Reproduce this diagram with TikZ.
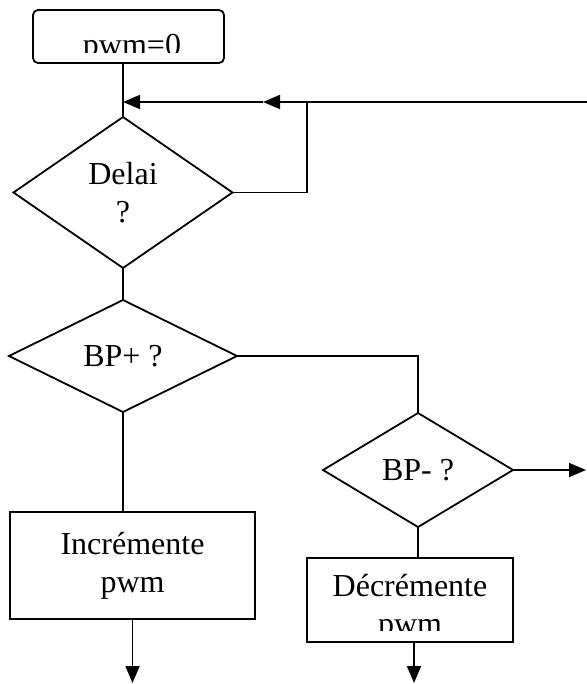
\documentclass[tikz,border=0pt]{standalone}
\usepackage{fontspec}
\setmainfont{Liberation Serif}
\usetikzlibrary{shapes.geometric,arrows.meta}
\tikzstyle{txt}=[font=\fontsize{16}{18.8}\selectfont, inner sep=0, outer sep=0]
\tikzstyle{procbox}=[txt, shape=rectangle, draw=black, align=center]
\tikzstyle{startbox}=[procbox, rounded corners=2.5pt]
\tikzstyle{decision}=[txt, shape=diamond, draw=black, align=center]
\tikzstyle{arr}=[-{Triangle[length=8.5pt,width=7pt]}]

\begin{document}
\begin{tikzpicture}[x=0.5pt,y=-0.5pt,line width=0.9pt]
\useasboundingbox (0,0) rectangle (587,684);
\node[startbox, minimum width=95.5pt, minimum height=26.5pt] (start) at (128.5,36.5) {};
\begin{scope}
\clip (33,10) rectangle (224,53);
\node[txt, anchor=base] (startlbl) at (132,56) {pwm=0};
\end{scope}
\node[decision, minimum width=109.5pt, minimum height=75.5pt] (delai) at (123,192.5) {Delai\\?};
\node[decision, minimum width=114pt, minimum height=56pt] (bpplus) at (123,356) {BP+ ?};
\node[decision, minimum width=95pt, minimum height=57pt] (bpminus) at (418,470) {BP- ?};
\node[procbox, minimum width=122.5pt, minimum height=53.5pt] (inc) at (132.5,565.5) {Incrémente\\pwm};
\node[procbox, minimum width=103pt, minimum height=42pt] (dec) at (410,600) {};
\begin{scope}
\clip (307,558) rectangle (513,630);
\node[txt, align=center] (declbl) at (410,608) {Décrémente\\pwm};
\end{scope}
\coordinate (loopin) at (587,102);
\coordinate (loopmid) at (263,102);
\coordinate (loopjoin) at (307,102);
\coordinate (outm) at (586,470);
\coordinate (incend) at (132.5,683);
\coordinate (decend) at (414,683);
\draw (start.south -| delai.north) -- (delai.north);
\draw[arr] (loopin) -- (loopmid);
\draw[arr] (loopmid) -- (delai.north |- loopin);
\draw (delai.east) -| (loopjoin);
\draw (delai.south) -- (bpplus.north);
\draw (bpplus.east) -| (bpminus.north);
\draw[arr] (bpminus.east) -- (outm);
\draw (bpplus.south) -- (bpplus.south |- inc.north);
\draw (bpminus.south) -- (bpminus.south |- dec.north);
\draw[arr] (inc.south) -- (incend);
\draw[arr] (dec.south -| decend) -- (decend);
\end{tikzpicture}
\end{document}
